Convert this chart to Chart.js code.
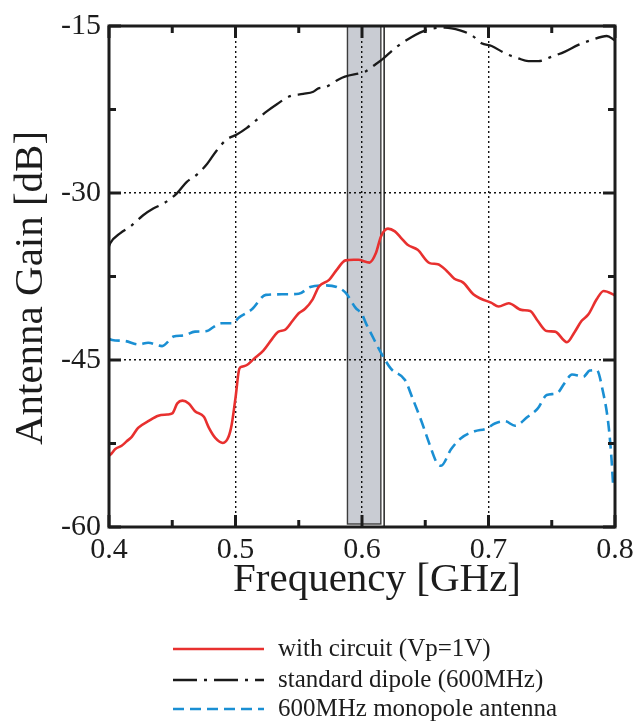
<!DOCTYPE html>
<html>
<head>
<meta charset="utf-8">
<script src="https://cdn.jsdelivr.net/npm/chart.js@4.4.1/dist/chart.umd.min.js"></script>
<style>
  html, body { margin: 0; padding: 0; background: #ffffff; }
  #wrap { width: 642px; height: 727px; }
</style>
</head>
<body>
<div id="wrap"><canvas id="gainChart" width="642" height="727"></canvas></div>
<script>
// Measured antenna gain [dB] versus frequency [GHz]

const circuitFreq = [0.400, 0.402, 0.405, 0.410, 0.414, 0.418, 0.423, 0.431, 0.439, 0.446, 0.450, 0.454, 0.458, 0.463, 0.468, 0.475, 0.479, 0.484, 0.490, 0.4945, 0.497, 0.500, 0.503, 0.505, 0.509, 0.5145, 0.522, 0.529, 0.534, 0.539, 0.545, 0.550, 0.555, 0.561, 0.566, 0.574, 0.580, 0.587, 0.5935, 0.597, 0.606, 0.611, 0.615, 0.6205, 0.626, 0.631, 0.636, 0.644, 0.6535, 0.660, 0.667, 0.673, 0.680, 0.688, 0.694, 0.702, 0.708, 0.716, 0.726, 0.733, 0.739, 0.746, 0.7525, 0.762, 0.768, 0.7735, 0.779, 0.7855, 0.791, 0.7985, 0.800];
const circuitGain = [-53.6, -53.4, -53.0, -52.7, -52.3, -51.9, -51.1, -50.5, -50.0, -49.9, -49.8, -48.9, -48.65, -48.9, -49.6, -50.1, -51.1, -52.0, -52.45, -51.9, -50.8, -48.4, -45.8, -45.6, -45.45, -44.9, -44.15, -43.1, -42.45, -42.3, -41.5, -40.8, -40.4, -39.55, -38.4, -37.8, -36.9, -36.05, -36.0, -36.0, -36.25, -35.4, -33.9, -33.2, -33.45, -34.05, -34.65, -35.1, -36.3, -36.4, -37.0, -37.7, -38.05, -39.1, -39.5, -39.85, -40.2, -39.9, -40.5, -40.6, -41.5, -42.4, -42.45, -43.4, -42.5, -41.5, -40.9, -39.55, -38.8, -39.1, -39.2];

const dipoleFreq = [0.400, 0.401, 0.409, 0.417, 0.427, 0.435, 0.443, 0.4535, 0.4615, 0.4695, 0.4775, 0.485, 0.493, 0.501, 0.509, 0.517, 0.525, 0.533, 0.543, 0.5535, 0.5615, 0.5655, 0.571, 0.5815, 0.5865, 0.600, 0.6025, 0.610, 0.617, 0.626, 0.639, 0.6525, 0.6655, 0.6775, 0.687, 0.6945, 0.7025, 0.713, 0.7235, 0.7315, 0.7395, 0.750, 0.7605, 0.771, 0.7815, 0.7935, 0.800];
const dipoleGain = [-34.8, -34.5, -33.6, -33.0, -32.0, -31.4, -30.95, -30.05, -29.0, -28.35, -27.4, -26.2, -25.2, -24.75, -24.15, -23.4, -22.65, -22.0, -21.3, -21.1, -20.9, -20.6, -20.5, -19.8, -19.55, -19.2, -19.1, -18.5, -17.9, -17.0, -16.0, -15.3, -15.15, -15.4, -15.85, -16.55, -16.8, -17.45, -17.9, -18.15, -18.15, -17.75, -17.3, -16.7, -16.25, -15.9, -16.3];

const monopoleFreq = [0.400, 0.4025, 0.413, 0.4235, 0.431, 0.442, 0.451, 0.459, 0.468, 0.4775, 0.4825, 0.489, 0.498, 0.5025, 0.513, 0.524, 0.537, 0.550, 0.559, 0.571, 0.580, 0.587, 0.5948, 0.600, 0.6035, 0.6075, 0.6155, 0.623, 0.634, 0.640, 0.647, 0.6535, 0.659, 0.6625, 0.6705, 0.6785, 0.689, 0.6985, 0.705, 0.713, 0.721, 0.731, 0.739, 0.746, 0.754, 0.760, 0.766, 0.775, 0.780, 0.7855, 0.7905, 0.7945, 0.797, 0.7985];
const monopoleGain = [-43.1, -43.2, -43.3, -43.6, -43.45, -43.75, -42.9, -42.8, -42.45, -42.4, -42.05, -41.7, -41.7, -41.2, -40.45, -39.15, -39.1, -39.05, -38.45, -38.3, -38.45, -38.95, -40.3, -40.9, -41.8, -42.7, -44.45, -45.8, -46.8, -48.45, -50.5, -52.6, -54.2, -54.5, -53.0, -52.0, -51.4, -51.15, -50.7, -50.5, -50.9, -50.1, -49.35, -48.15, -48.0, -47.1, -46.3, -46.5, -45.95, -45.9, -47.85, -50.5, -53.5, -56.2];

const seriesLabels = ['with circuit (Vp=1V)', 'standard dipole (600MHz)', '600MHz monopole antenna'];
const xTitle = 'Frequency [GHz]';
const yTitle = 'Antenna Gain [dB]';

// Axis ranges and tick values
const freqRange = [0.4, 0.8];
const gainRange = [-60, -15];
const freqMajorTicks = [0.4, 0.5, 0.6, 0.7, 0.8];
const freqMinorTicks = [0.45, 0.55, 0.65, 0.75];
const gainMajorTicks = [-60, -45, -30, -15];
const gainMinorTicks = [-52.5, -37.5, -22.5];

// Shaded operating band [GHz]
const bandRange = [0.5885, 0.6149];
const bandEdge = 0.6175;

const toPoints = (xs, ys) => xs.map((x, i) => ({ x: x, y: ys[i] }));

const SERIF = '"Liberation Serif", "Times New Roman", "DejaVu Serif", serif';
const INK = '#1c1c1c';

const bandPlugin = {
  id: 'band',
  beforeDraw(chart) {
    const { ctx, chartArea, scales: { x } } = chart;
    const x0 = x.getPixelForValue(bandRange[0]);
    const x1 = x.getPixelForValue(bandRange[1]);
    const xe = x.getPixelForValue(bandEdge);
    ctx.save();
    ctx.fillStyle = '#c9ccd3';
    ctx.fillRect(x0, chartArea.top, x1 - x0, chartArea.bottom - chartArea.top - 3);
    ctx.strokeStyle = '#3c3c3c';
    ctx.lineWidth = 1.4;
    ctx.strokeRect(x0, chartArea.top, x1 - x0, chartArea.bottom - chartArea.top - 3);
    ctx.strokeStyle = '#111';
    ctx.beginPath();
    ctx.moveTo(xe, chartArea.top);
    ctx.lineTo(xe, chartArea.bottom);
    ctx.stroke();
    ctx.restore();
  }
};

const framePlugin = {
  id: 'frame',
  afterDatasetsDraw(chart) {
    const { ctx, chartArea: a, scales: { x, y } } = chart;
    ctx.save();
    ctx.strokeStyle = INK;
    ctx.lineWidth = 3;
    ctx.lineCap = 'butt';
    const tick = (x0, y0, x1, y1) => { ctx.beginPath(); ctx.moveTo(x0, y0); ctx.lineTo(x1, y1); ctx.stroke(); };
    const majorLen = 12, minorLen = 7;
    freqMajorTicks.forEach(v => { const p = x.getPixelForValue(v); tick(p, a.bottom, p, a.bottom - majorLen); tick(p, a.top, p, a.top + majorLen); });
    freqMinorTicks.forEach(v => { const p = x.getPixelForValue(v); tick(p, a.bottom, p, a.bottom - minorLen); tick(p, a.top, p, a.top + minorLen); });
    gainMajorTicks.forEach(v => { const p = y.getPixelForValue(v); tick(a.left, p, a.left + majorLen, p); tick(a.right, p, a.right - majorLen, p); });
    gainMinorTicks.forEach(v => { const p = y.getPixelForValue(v); tick(a.left, p, a.left + minorLen, p); tick(a.right, p, a.right - minorLen, p); });
    ctx.strokeRect(a.left, a.top, a.right - a.left, a.bottom - a.top);
    ctx.restore();
  }
};

// Axis titles and the line-sample legend beneath the plot
const annotationPlugin = {
  id: 'titlesAndLegend',
  afterDraw(chart) {
    const { ctx } = chart;
    ctx.save();
    ctx.fillStyle = INK;
    ctx.textBaseline = 'middle';
    ctx.textAlign = 'center';
    ctx.font = '41px ' + SERIF;
    ctx.fillText(xTitle, 377, 580);
    ctx.save();
    ctx.translate(31, 288);
    ctx.rotate(-Math.PI / 2);
    ctx.fillText(yTitle, 0, 0);
    ctx.restore();

    const rows = [649, 680, 709];
    ctx.font = '25px ' + SERIF;
    ctx.textAlign = 'left';
    chart.data.datasets.forEach((ds, i) => {
      const yy = rows[i];
      ctx.strokeStyle = ds.borderColor;
      ctx.lineWidth = ds.borderWidth;
      ctx.setLineDash(ds.borderDash || []);
      ctx.beginPath();
      ctx.moveTo(173, yy);
      ctx.lineTo(264, yy);
      ctx.stroke();
      ctx.setLineDash([]);
      ctx.fillStyle = INK;
      ctx.fillText(ds.label, 278, yy);
    });
    ctx.restore();
  }
};

const edgeValues = [freqRange[0], freqRange[1], gainRange[0], gainRange[1]];
const gridStyle = {
  color: (c) => (c.tick && edgeValues.includes(c.tick.value)) ? 'rgba(0,0,0,0)' : '#111',
  lineWidth: 1.4,
  drawTicks: false
};

new Chart(document.getElementById('gainChart'), {
  type: 'line',
  data: {
    datasets: [
      { label: seriesLabels[0], data: toPoints(circuitFreq, circuitGain), borderColor: '#e8302f', borderWidth: 2.6, borderDash: [], pointRadius: 0, cubicInterpolationMode: 'monotone', fill: false },
      { label: seriesLabels[1], data: toPoints(dipoleFreq, dipoleGain), borderColor: '#1a1a1a', borderWidth: 2.3, borderDash: [24, 7, 3, 7], pointRadius: 0, cubicInterpolationMode: 'monotone', fill: false },
      { label: seriesLabels[2], data: toPoints(monopoleFreq, monopoleGain), borderColor: '#1a8fd3', borderWidth: 2.6, borderDash: [11, 6], pointRadius: 0, cubicInterpolationMode: 'monotone', fill: false }
    ]
  },
  options: {
    responsive: false,
    animation: false,
    devicePixelRatio: 1,
    layout: { padding: { top: 21, right: 27, bottom: 120, left: 0 } },
    plugins: { legend: { display: false }, tooltip: { enabled: false } },
    scales: {
      x: {
        type: 'linear',
        min: freqRange[0], max: freqRange[1],
        afterFit: (s) => { s.height = 80; },
        afterBuildTicks: (s) => { s.ticks = freqMajorTicks.map(v => ({ value: v })); },
        ticks: { callback: (v) => Number(v).toFixed(1), font: { family: SERIF, size: 30 }, color: INK, padding: 5, maxRotation: 0 },
        grid: gridStyle,
        border: { display: false, dash: [2, 3] },
        title: { display: false }
      },
      y: {
        type: 'linear',
        min: gainRange[0], max: gainRange[1],
        afterFit: (s) => { s.width = 109; },
        afterBuildTicks: (s) => { s.ticks = gainMajorTicks.map(v => ({ value: v })); },
        ticks: { font: { family: SERIF, size: 30 }, color: INK, padding: 8 },
        grid: gridStyle,
        border: { display: false, dash: [2, 3] },
        title: { display: false }
      }
    }
  },
  plugins: [bandPlugin, framePlugin, annotationPlugin]
});
</script>
</body>
</html>
